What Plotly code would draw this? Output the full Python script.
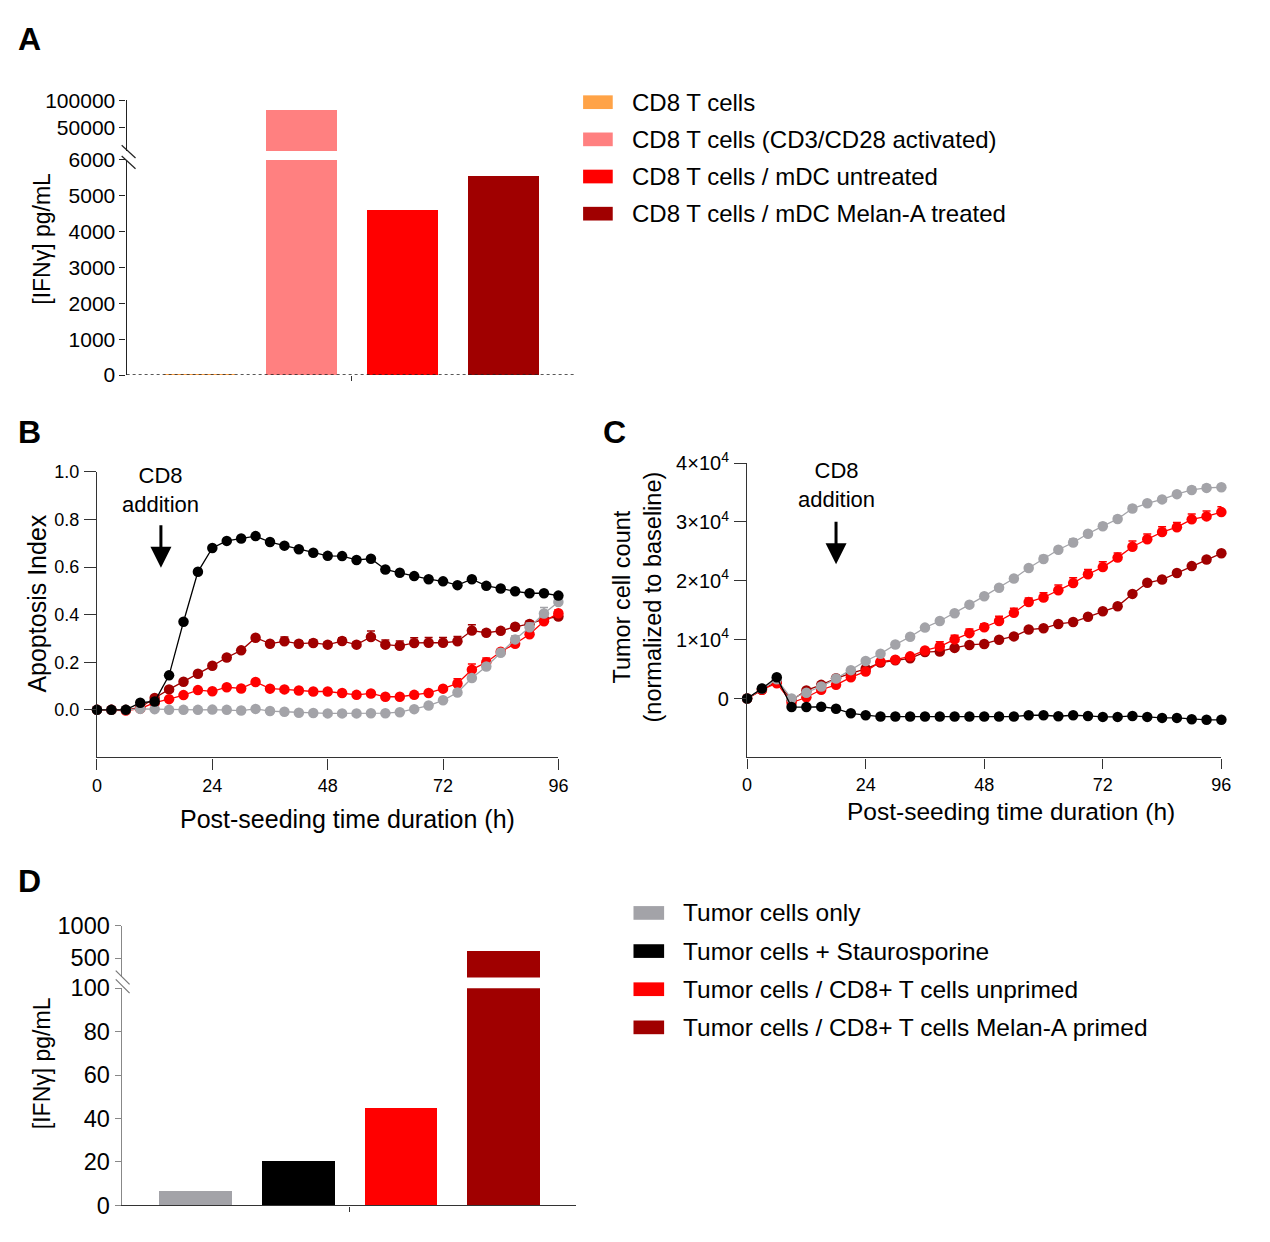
import plotly.graph_objects as go

W, H = 1270, 1242
OFF = 8          # default page margin of the html body
FW, FH = W - 2 * OFF, H - 2 * OFF
FONT = "Liberation Sans, Arial, sans-serif"

# ---------------- Panel A data ----------------
a_categories = ["CD8 T cells", "CD8 T cells (CD3/CD28 activated)",
                "CD8 T cells / mDC untreated", "CD8 T cells / mDC Melan-A treated"]
a_ifng = [20, 82000, 4600, 5560]
a_colors = ["#FFA347", "#FF8080", "#FF0000", "#A00000"]
a_low_ticks = [0, 1000, 2000, 3000, 4000, 5000, 6000]
a_high_ticks = [50000, 100000]

# ---------------- Panel B / C data ----------------
time_h = [0, 3, 6, 9, 12, 15, 18, 21, 24, 27, 30, 33, 36, 39, 42, 45, 48,
          51, 54, 57, 60, 63, 66, 69, 72, 75, 78, 81, 84, 87, 90, 93, 96]
series_names = ["Tumor cells only", "Tumor cells + Staurosporine",
                "Tumor cells / CD8+ T cells unprimed", "Tumor cells / CD8+ T cells Melan-A primed"]
series_colors = ["#A3A3A8", "#000000", "#FF0000", "#A00000"]

b_tumor_only = [0, 0, 0, 0.004, 0.003, 0, 0, 0, 0.001, 0, -0.003, 0.004, -0.005, -0.008, -0.012, -0.013, -0.015,
                -0.015, -0.015, -0.014, -0.014, -0.01, 0.003, 0.018, 0.04, 0.073, 0.134, 0.182, 0.24, 0.296, 0.347, 0.405, 0.453]
b_stauro = [0, 0, 0, 0.03, 0.035, 0.145, 0.37, 0.58, 0.68, 0.71, 0.72, 0.73, 0.705, 0.69, 0.675, 0.66, 0.647,
            0.646, 0.63, 0.635, 0.59, 0.576, 0.562, 0.549, 0.54, 0.524, 0.549, 0.521, 0.51, 0.498, 0.49, 0.49, 0.48]
b_unprimed = [0, 0, -0.003, 0.005, 0.03, 0.045, 0.062, 0.083, 0.078, 0.095, 0.09, 0.117, 0.089, 0.086, 0.081, 0.077, 0.077,
              0.071, 0.063, 0.069, 0.055, 0.055, 0.063, 0.071, 0.089, 0.111, 0.169, 0.2, 0.244, 0.278, 0.318, 0.372, 0.406]
b_primed = [0, 0, 0, 0.01, 0.05, 0.086, 0.118, 0.152, 0.185, 0.22, 0.25, 0.303, 0.278, 0.288, 0.278, 0.281, 0.274,
            0.289, 0.274, 0.306, 0.274, 0.269, 0.281, 0.282, 0.282, 0.288, 0.333, 0.324, 0.332, 0.349, 0.361, 0.381, 0.392]
b_err_tumor_only = [0, 0, 0, 0, 0, 0, 0, 0, 0, 0, 0, 0, 0, 0, 0, 0, 0,
                    0, 0, 0, 0, 0, 0, 0, 0.005, 0.008, 0.01, 0.012, 0.015, 0.015, 0.018, 0.025, 0.02]
b_err_stauro = [0, 0, 0, 0, 0, 0, 0, 0, 0, 0, 0, 0, 0, 0, 0, 0, 0,
                0, 0, 0, 0, 0, 0, 0, 0, 0, 0, 0, 0, 0, 0, 0, 0.008]
b_err_unprimed = [0, 0, 0, 0, 0, 0, 0, 0, 0, 0, 0, 0, 0, 0, 0, 0, 0,
                  0, 0, 0, 0, 0, 0, 0, 0.01, 0.02, 0.024, 0.018, 0.01, 0.01, 0.01, 0.012, 0.015]
b_err_primed = [0, 0, 0, 0, 0, 0, 0, 0, 0, 0, 0, 0, 0, 0.018, 0.012, 0.014, 0.012,
                0.014, 0.012, 0.025, 0.02, 0.02, 0.022, 0.022, 0.022, 0.02, 0.025, 0.012, 0.01, 0.012, 0.012, 0.008, 0.005]

c_tumor_only = [0, 1700, 3280, 0, 1000, 2050, 3390, 4830, 6390, 7610, 9170, 10500, 12050, 13170, 14500, 15950, 17390,
                18830, 20390, 22170, 23720, 25280, 26500, 28000, 29280, 30500, 32280, 33170, 33830, 34720, 35440, 35780, 35890]
c_stauro = [0, 1700, 3610, -1440, -1440, -1390, -1720, -2500, -2830, -3060, -3060, -3060, -3060, -3060, -3060, -3060, -3060,
            -3060, -3060, -2830, -2830, -3000, -2830, -2950, -3110, -3110, -2950, -3110, -3280, -3280, -3500, -3610, -3610]
c_unprimed = [0, 1500, 2610, -720, 220, 1500, 2330, 3610, 4610, 6280, 6610, 7170, 8170, 8830, 10050, 11110, 12100,
              13170, 14560, 16390, 17170, 18390, 19610, 21110, 22330, 23940, 25780, 27060, 28280, 29110, 30440, 30940, 31670]
c_primed = [0, 1500, 2900, -280, 1390, 2330, 3440, 4280, 5060, 6110, 6500, 6830, 7900, 8000, 8610, 9110, 9280,
            10000, 10560, 11720, 11940, 12670, 13000, 13890, 14830, 15670, 17780, 19670, 20220, 21330, 22500, 23610, 24670]
c_err_tumor_only = [0, 0, 0, 0, 0, 0, 0, 0, 0, 0, 0, 0, 0, 0, 0, 0, 0,
                    0, 0, 0, 600, 400, 600, 400, 500, 500, 500, 400, 400, 400, 500, 500, 300]
c_err_unprimed = [0, 0, 0, 0, 0, 0, 0, 0, 0, 0, 0, 0, 0, 800, 700, 700, 600,
                  800, 800, 700, 800, 900, 900, 800, 900, 800, 1000, 900, 900, 800, 900, 900, 900]
c_err_primed = [0, 0, 0, 0, 0, 0, 0, 0, 0, 0, 0, 0, 0, 0, 0, 0, 0,
                0, 0, 0, 0, 0, 0, 0, 0, 0, 0, 0, 0, 0, 0, 0, 0]
c_err_stauro = [0, 0, 0, 0, 0, 0, 0, 0, 0, 0, 0, 0, 0, 0, 0, 0, 0,
                0, 0, 0, 0, 0, 0, 0, 0, 0, 0, 0, 0, 0, 0, 0, 0]

# ---------------- Panel D data ----------------
d_categories = series_names
d_ifng = [6.5, 20.5, 44.6, 620]
d_colors = ["#A3A3A8", "#000000", "#FF0000", "#A00000"]
d_low_ticks = [0, 20, 40, 60, 80, 100]
d_high_ticks = [500, 1000]

x_ticks_time = [0, 24, 48, 72, 96]
b_y_ticks = [0.0, 0.2, 0.4, 0.6, 0.8, 1.0]
c_y_ticks = [0, 10000, 20000, 30000, 40000]
c_y_ticktext = ["0", "1×10<sup>4</sup>", "2×10<sup>4</sup>", "3×10<sup>4</sup>", "4×10<sup>4</sup>"]


def px(x):
    return (x - OFF) / FW


def py(y):
    return 1 - (y - OFF) / FH


fig = go.Figure()

# ---- Panel A bars (lower and upper segments of the broken axis) ----
a_idx = list(range(len(a_categories)))
for ax_x, ax_y in (("x", "y"), ("x2", "y2")):
    fig.add_trace(go.Bar(x=a_idx, y=a_ifng, marker=dict(color=a_colors, line=dict(width=0)),
                         width=0.70, xaxis=ax_x, yaxis=ax_y, showlegend=False,
                         hovertext=a_categories))

# ---- Panel B / C lines ----
b_series = [b_primed, b_unprimed, b_tumor_only, b_stauro]
b_errs = [b_err_primed, b_err_unprimed, b_err_tumor_only, b_err_stauro]
c_series = [c_primed, c_unprimed, c_tumor_only, c_stauro]
c_errs = [c_err_primed, c_err_unprimed, c_err_tumor_only, c_err_stauro]
order = [3, 2, 0, 1]
for k, i in enumerate(order):
    col = series_colors[i]
    for vals, errs, xa, ya in ((b_series[k], b_errs[k], "x3", "y3"),
                               (c_series[k], c_errs[k], "x4", "y4")):
        fig.add_trace(go.Scatter(
            x=time_h, y=vals, mode="lines+markers", xaxis=xa, yaxis=ya,
            name=series_names[i], showlegend=False, cliponaxis=False,
            line=dict(color=col, width=1.3),
            marker=dict(color=col, size=10.5, line=dict(width=0)),
            error_y=dict(type="data", symmetric=False, array=errs, arrayminus=[0] * len(errs),
                         color=col, thickness=1.5, width=4)))

# ---- Panel D bars ----
d_idx = list(range(len(d_categories)))
for ax_x, ax_y in (("x5", "y5"), ("x6", "y6")):
    fig.add_trace(go.Bar(x=d_idx, y=d_ifng, marker=dict(color=d_colors, line=dict(width=0)),
                         width=0.71, xaxis=ax_x, yaxis=ax_y, showlegend=False,
                         hovertext=d_categories))

tickfont_a = dict(family=FONT, size=21, color="black")
tickfont_b = dict(family=FONT, size=18, color="black")
tickfont_d = dict(family=FONT, size=23.5, color="black")

common_y = dict(showgrid=False, zeroline=False, showline=True, ticks="outside", ticklen=6, tickwidth=1.3,
                linewidth=1.3, tickformat="d")
line_axis = dict(showgrid=False, zeroline=False, showline=True, linecolor="#333", linewidth=1.3,
                 ticks="outside", tickwidth=1.3, tickcolor="#333", ticklabelstandoff=1)

layout = dict(
    width=FW, height=FH, margin=dict(l=0, r=0, t=0, b=0),
    paper_bgcolor="white", plot_bgcolor="rgba(0,0,0,0)",
    font=dict(family=FONT, color="black"),
    bargap=0, showlegend=False,
    # Panel A
    xaxis=dict(domain=[px(123), px(577)], range=[-0.72, 3.71], anchor="y", showgrid=False, zeroline=False,
               showline=False, tickvals=[1.5], ticks="outside", ticklen=5, tickcolor="#333",
               showticklabels=False),
    yaxis=dict(domain=[py(369), py(149)], range=[0, 6000], anchor="x", tickvals=a_low_ticks,
               linecolor="#222", tickcolor="#222", tickfont=tickfont_a, **common_y),
    xaxis2=dict(domain=[px(123), px(577)], range=[-0.72, 3.71], anchor="y2", visible=False),
    yaxis2=dict(domain=[py(140), py(88)], range=[6000, 100000], anchor="x2", tickvals=a_high_ticks,
                linecolor="#222", tickcolor="#222", tickfont=tickfont_a, **common_y),
    # Panel B
    xaxis3=dict(domain=[px(93), px(560)], range=[0, 96], anchor="y3", tickvals=x_ticks_time,
                tickfont=tickfont_b, ticklen=11, **line_axis),
    yaxis3=dict(domain=[py(760), py(468)], range=[-0.2, 1.0], anchor="x3", tickvals=b_y_ticks,
                tickformat=".1f", tickfont=tickfont_b, ticklen=12, **line_axis),
    # Panel C
    xaxis4=dict(domain=[px(751), px(1231)], range=[0, 96], anchor="y4", tickvals=x_ticks_time,
                tickfont=tickfont_b, ticklen=10, **line_axis),
    yaxis4=dict(domain=[py(760), py(459)], range=[-10000, 40000], anchor="x4", tickvals=c_y_ticks,
                ticktext=c_y_ticktext, tickfont=dict(family=FONT, size=20, color="black"), ticklen=12,
                **line_axis),
    # Panel D
    xaxis5=dict(domain=[px(118), px(578)], range=[-0.72, 3.71], anchor="y5", showgrid=False, zeroline=False,
                showline=True, linecolor="#333", linewidth=1.3, tickvals=[1.5], ticks="outside", ticklen=5,
                tickcolor="#333", showticklabels=False),
    yaxis5=dict(domain=[py(1218), py(996)], range=[0, 100], anchor="x5", tickvals=d_low_ticks,
                linecolor="#888", tickcolor="#888", tickfont=tickfont_d, **common_y),
    xaxis6=dict(domain=[px(118), px(578)], range=[-0.72, 3.71], anchor="y6", visible=False),
    yaxis6=dict(domain=[py(985), py(932)], range=[200, 1000], anchor="x6", tickvals=d_high_ticks,
                linecolor="#888", tickcolor="#888", tickfont=tickfont_d, **common_y),
)
fig.update_layout(**layout)

shapes = []
# dotted baseline of panel A
shapes.append(dict(type="line", xref="x domain", yref="y", x0=0, x1=1, y0=0, y1=0,
                   line=dict(color="#222", width=1.5, dash="dot")))
# axis break marks
for (x0, y0, x1, y1, c) in [(118, 134, 132, 147, "#222"), (118, 145, 132, 158, "#222"),
                            (112, 978, 126, 992, "#777"), (112, 987, 126, 1001, "#777")]:
    shapes.append(dict(type="line", xref="paper", yref="paper", x0=px(x0), y0=py(y0), x1=px(x1), y1=py(y1),
                       line=dict(color=c, width=1.2)))

annotations = []
# legends (manual swatches)
for i, (name, col) in enumerate(zip(a_categories, a_colors)):
    yc = 90 + 38 * i
    shapes.append(dict(type="rect", xref="paper", yref="paper", x0=px(585), x1=px(615),
                       y0=py(yc + 7), y1=py(yc - 7), fillcolor=col, line=dict(width=0)))
    annotations.append(dict(text=name, xref="paper", yref="paper", x=px(632), y=py(yc), xanchor="left",
                            yanchor="middle", showarrow=False, font=dict(family=FONT, size=24, color="black")))
for i, (name, col) in enumerate(zip(d_categories, d_colors)):
    yc = 919 + 39 * i
    shapes.append(dict(type="rect", xref="paper", yref="paper", x0=px(636), x1=px(667),
                       y0=py(yc + 7), y1=py(yc - 7), fillcolor=col, line=dict(width=0)))
    annotations.append(dict(text=name, xref="paper", yref="paper", x=px(684), y=py(yc), xanchor="left",
                            yanchor="middle", showarrow=False, font=dict(family=FONT, size=24.5, color="black")))

# panel letters
for letter, x, y in (("A", 11, 25), ("B", 11, 427), ("C", 603, 427), ("D", 11, 886)):
    annotations.append(dict(text="<b>%s</b>" % letter, xref="paper", yref="paper", x=px(x), y=py(y),
                            xanchor="left", yanchor="middle", showarrow=False,
                            font=dict(family=FONT, size=32, color="black")))

title_font = dict(family=FONT, size=25, color="black")
# axis titles
annotations += [
    dict(text="[IFNγ] pg/mL", xref="paper", yref="paper", x=px(37), y=py(230), textangle=-90,
         showarrow=False, xanchor="center", yanchor="middle", font=dict(family=FONT, size=23, color="black")),
    dict(text="Apoptosis Index", xref="paper", yref="paper", x=px(32), y=py(603), textangle=-90,
         showarrow=False, xanchor="center", yanchor="middle", font=title_font),
    dict(text="Post-seeding time duration (h)", xref="paper", yref="paper", x=px(347), y=py(823),
         showarrow=False, xanchor="center", yanchor="middle", font=title_font),
    dict(text="Tumor cell count<br>(normalized to baseline)", xref="paper", yref="paper", x=px(640), y=py(596),
         textangle=-90, showarrow=False, xanchor="center", yanchor="middle",
         font=dict(family=FONT, size=23.5, color="black")),
    dict(text="Post-seeding time duration (h)", xref="paper", yref="paper", x=px(1018), y=py(815),
         showarrow=False, xanchor="center", yanchor="middle", font=dict(family=FONT, size=24.5, color="black")),
    dict(text="[IFNγ] pg/mL", xref="paper", yref="paper", x=px(37), y=py(1073), textangle=-90,
         showarrow=False, xanchor="center", yanchor="middle", font=dict(family=FONT, size=23, color="black")),
]

# CD8 addition markers
for xa, ya, t, ytip, xc, ytxt in (("x3", "y3", 13.3, 0.597, 157, 487), ("x4", "y4", 18, 22800, 841, 481)):
    annotations.append(dict(text="CD8<br>addition", xref="paper", yref="paper", x=px(xc), y=py(ytxt),
                            showarrow=False, xanchor="center", yanchor="middle",
                            font=dict(family=FONT, size=22, color="black")))
    annotations.append(dict(text="", xref=xa, yref=ya, x=t, y=ytip, ax=0, ay=-44, showarrow=True,
                            arrowhead=2, arrowsize=1.4, arrowwidth=3, arrowcolor="black"))

fig.update_layout(shapes=shapes, annotations=annotations)

fig.write_html("out.html", config={"displayModeBar": False})
